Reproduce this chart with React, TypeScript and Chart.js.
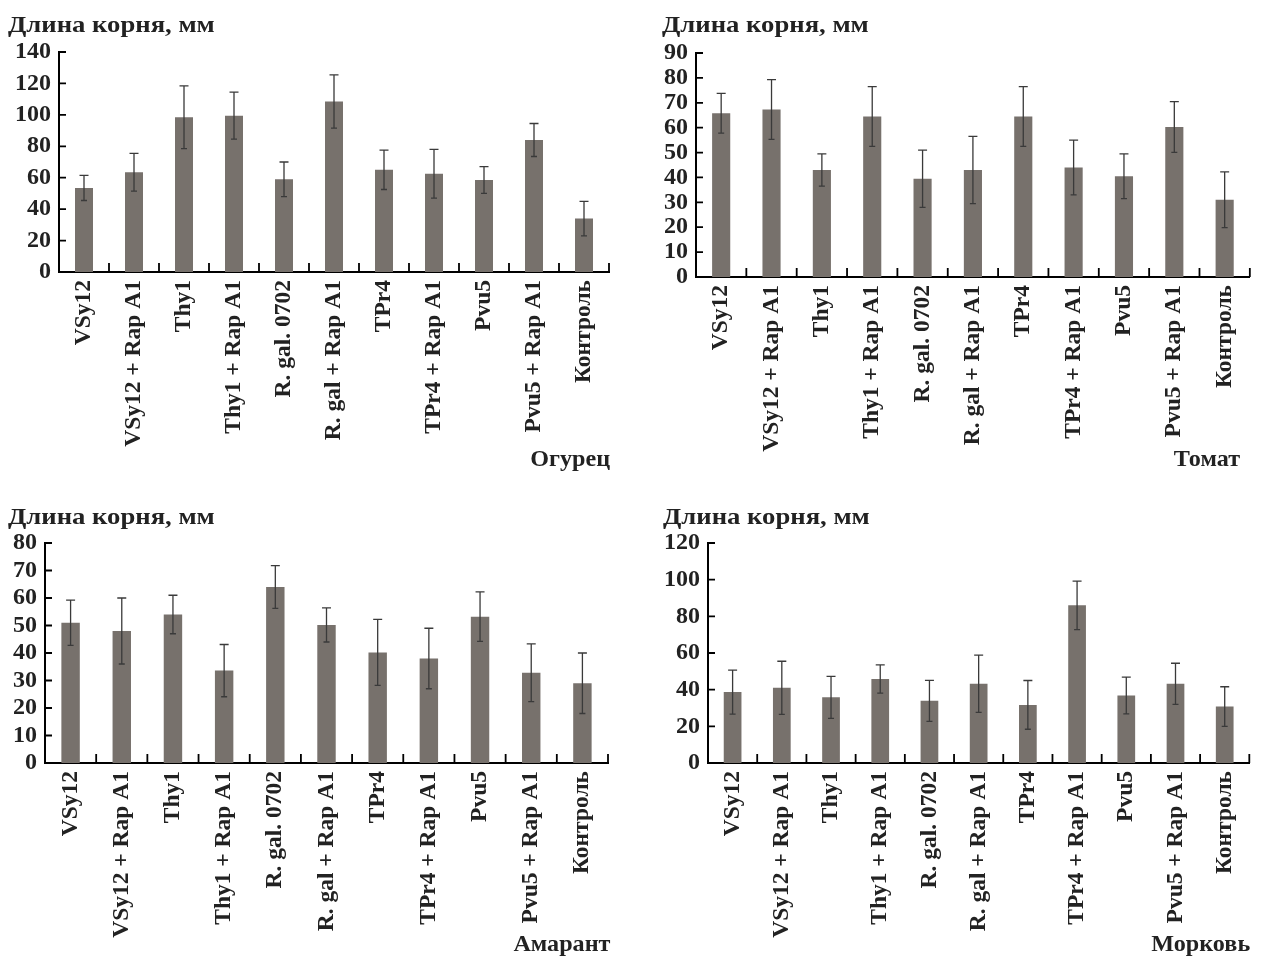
import React, { useEffect, useRef } from "react";
import { Chart, registerables } from "chart.js";

Chart.register(...registerables);

const categories = [
  "VSy12",
  "VSy12 + Rap A1",
  "Thy1",
  "Thy1 + Rap A1",
  "R. gal. 0702",
  "R. gal + Rap A1",
  "TPr4",
  "TPr4 + Rap A1",
  "Pvu5",
  "Pvu5 + Rap A1",
  "Контроль",
];

const cucumberMeans = [53.5, 63.5, 98.5, 99.5, 59, 108.5, 65, 62.5, 58.5, 84, 34];
const cucumberErr = [8, 12, 20, 15, 11, 17, 12.5, 15.5, 8.5, 10.5, 11];

const tomatoMeans = [65.8, 67.3, 43, 64.5, 39.5, 43, 64.5, 44, 40.5, 60.3, 31];
const tomatoErr = [8, 12, 6.5, 12, 11.5, 13.5, 12, 11, 9, 10.2, 11.2];

const amaranthMeans = [51, 48, 54, 33.6, 64, 50.2, 40.2, 38, 53.2, 32.8, 29];
const amaranthErr = [8.2, 12, 7, 9.5, 7.8, 6.2, 12, 11, 9, 10.5, 11];

const carrotMeans = [38.7, 41, 35.8, 45.8, 33.9, 43.2, 31.7, 86, 36.8, 43.2, 30.8];
const carrotErr = [12, 14.5, 11.5, 7.7, 11.2, 15.6, 13.3, 13.2, 10, 11.2, 10.8];

const yTitle = "Длина корня, мм";
const cropNames = ["Огурец", "Томат", "Амарант", "Морковь"];

const FONT = "'Liberation Serif', serif";
const BAR_COLOR = "#77716c";
const TEXT_COLOR = "#222222";

type PanelProps = {
  left: number;
  top: number;
  means: number[];
  errs: number[];
  yMax: number;
  yStep: number;
  area: { left: number; top: number; right: number; bottom: number };
  title: string;
  titleLeft: number;
  titleTop: number;
  crop: string;
  cropRight: number;
  cropTop: number;
};

const W = 630;
const H = 480;

function Panel(p: PanelProps) {
  const ref = useRef<HTMLCanvasElement>(null);
  useEffect(() => {
    if (!ref.current) return;
    const errs = p.errs;
    const n = categories.length;
    const plugin = {
      id: "errAxes",
      afterDatasetsDraw(chart: any) {
        const ctx = chart.ctx;
        const meta = chart.getDatasetMeta(0);
        const data = chart.data.datasets[0].data as number[];
        const ys = chart.scales.y;
        const a = chart.chartArea;
        ctx.save();
        ctx.strokeStyle = "#3a3a3a";
        ctx.lineWidth = 1.3;
        meta.data.forEach((bar: any, i: number) => {
          const v = data[i];
          const e = errs[i];
          const yt = ys.getPixelForValue(v + e);
          const yb = ys.getPixelForValue(v - e);
          ctx.beginPath();
          ctx.moveTo(bar.x, yt);
          ctx.lineTo(bar.x, yb);
          ctx.moveTo(bar.x - 4.5, yt);
          ctx.lineTo(bar.x + 4.5, yt);
          ctx.moveTo(bar.x - 3, yb);
          ctx.lineTo(bar.x + 3, yb);
          ctx.stroke();
        });
        ctx.strokeStyle = "#000";
        ctx.lineWidth = 1.8;
        const slot = (a.right - a.left) / n;
        ctx.beginPath();
        for (let i = 1; i <= n; i++) {
          const x = a.left + slot * i;
          ctx.moveTo(x, a.bottom);
          ctx.lineTo(x, a.bottom - 9);
        }
        ys.ticks.forEach((t: any) => {
          const y = ys.getPixelForValue(t.value);
          if (t.value === 0) return;
          ctx.moveTo(a.left, y);
          ctx.lineTo(a.left + 7, y);
        });
        ctx.stroke();
        ctx.restore();
      },
    };
    const chart = new Chart(ref.current, {
      type: "bar",
      data: {
        labels: categories,
        datasets: [
          {
            data: p.means,
            backgroundColor: BAR_COLOR,
            borderWidth: 0,
            categoryPercentage: 1,
            barPercentage: 0.36,
          },
        ],
      },
      options: {
        animation: false,
        responsive: false,
        devicePixelRatio: 1,
        layout: {
          padding: { top: p.area.top, right: W - p.area.right, left: 0, bottom: 0 },
        },
        plugins: {
          legend: { display: false },
          tooltip: { enabled: false },
          title: { display: false },
        },
        scales: {
          x: {
            type: "category",
            offset: true,
            grid: { display: false, drawTicks: false },
            border: { display: true, color: "#000", width: 2 },
            ticks: {
              autoSkip: false,
              maxRotation: 90,
              minRotation: 90,
              padding: 8,
              color: TEXT_COLOR,
              font: { family: FONT, size: 23.5, weight: "bold" },
            },
            afterFit: (s: any) => {
              s.height = H - p.area.bottom;
            },
          },
          y: {
            min: 0,
            max: p.yMax,
            grid: { display: false, drawTicks: false },
            border: { display: true, color: "#000", width: 2 },
            ticks: {
              stepSize: p.yStep,
              autoSkip: false,
              padding: 8,
              color: TEXT_COLOR,
              font: { family: FONT, size: 24, weight: "bold" },
            },
            afterFit: (s: any) => {
              s.width = p.area.left;
            },
          },
        },
      },
      plugins: [plugin],
    });
    return () => chart.destroy();
  }, []);

  const textStyle: React.CSSProperties = {
    position: "absolute",
    fontFamily: FONT,
    fontSize: 23,
    fontWeight: "bold",
    color: TEXT_COLOR,
    whiteSpace: "nowrap",
    lineHeight: "24px",
  };

  return (
    <div style={{ position: "absolute", left: p.left, top: p.top, width: W, height: H }}>
      <canvas ref={ref} width={W} height={H} style={{ position: "absolute", left: 0, top: 0, width: W, height: H }} />
      <div
        style={{
          ...textStyle,
          left: p.titleLeft,
          top: p.titleTop,
          transform: "scaleX(1.16)",
          transformOrigin: "left center",
        }}
      >
        {p.title}
      </div>
      <div
        style={{
          ...textStyle,
          right: W - p.cropRight,
          top: p.cropTop,
          transform: "scaleX(1.05)",
          transformOrigin: "right center",
        }}
      >
        {p.crop}
      </div>
    </div>
  );
}

export default function App() {
  return (
    <div style={{ position: "absolute", left: 0, top: 0, width: 1261, height: 961, background: "#fff", overflow: "hidden" }}>
      <Panel
        left={0}
        top={0}
        means={cucumberMeans}
        errs={cucumberErr}
        yMax={140}
        yStep={20}
        area={{ left: 59, top: 52, right: 609, bottom: 272 }}
        title={yTitle}
        titleLeft={8}
        titleTop={13}
        crop={cropNames[0]}
        cropRight={610}
        cropTop={447}
      />
      <Panel
        left={631}
        top={0}
        means={tomatoMeans}
        errs={tomatoErr}
        yMax={90}
        yStep={10}
        area={{ left: 65, top: 53, right: 627, bottom: 277 }}
        title={yTitle}
        titleLeft={31}
        titleTop={13}
        crop={cropNames[1]}
        cropRight={609}
        cropTop={447}
      />
      <Panel
        left={0}
        top={481}
        means={amaranthMeans}
        errs={amaranthErr}
        yMax={80}
        yStep={10}
        area={{ left: 45, top: 62, right: 608, bottom: 282 }}
        title={yTitle}
        titleLeft={8}
        titleTop={24}
        crop={cropNames[2]}
        cropRight={610}
        cropTop={451}
      />
      <Panel
        left={631}
        top={481}
        means={carrotMeans}
        errs={carrotErr}
        yMax={120}
        yStep={20}
        area={{ left: 77, top: 62, right: 628, bottom: 282 }}
        title={yTitle}
        titleLeft={32}
        titleTop={24}
        crop={cropNames[3]}
        cropRight={619}
        cropTop={451}
      />
    </div>
  );
}
